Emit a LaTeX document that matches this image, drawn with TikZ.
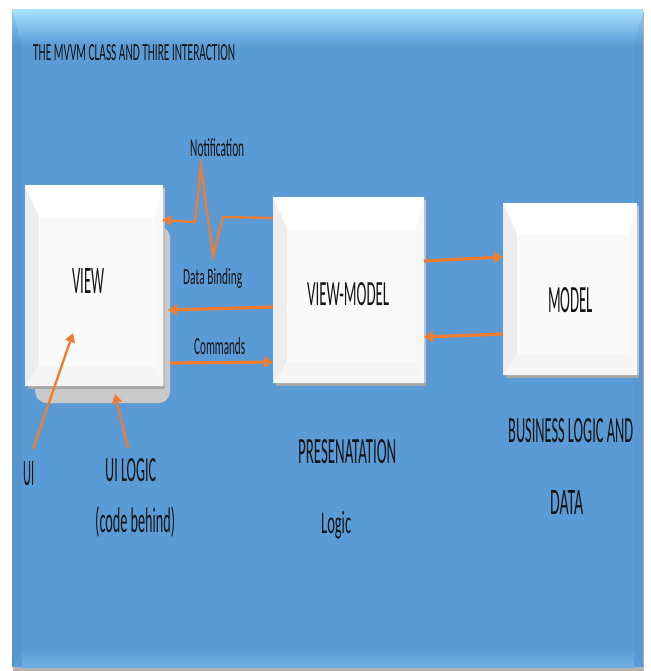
\documentclass[tikz,border=0pt]{standalone}
\usepackage{fontspec}
\setmainfont{Carlito}
\usetikzlibrary{arrows.meta}
\definecolor{panelblue}{HTML}{5B9BD5}
\definecolor{lightblue}{HTML}{A6E0FF}
\definecolor{arroworange}{HTML}{ED7D31}
\definecolor{txt}{HTML}{141414}
\definecolor{shadowgray}{HTML}{C9C9C9}
\newcommand{\fitbox}[3]{\resizebox{#1pt}{#2pt}{#3}}
\newcommand{\bevelbox}[5]{%
  % #1 name, #2 x1, #3 y1, #4 x2, #5 y2
  \fill[black!35] (#2+3,#5) rectangle (#4+2,#5+3);
  \fill[black!25] (#4,#3+3) rectangle (#4+2,#5);
  \node[boxface, minimum width=#4pt-#2pt, minimum height=#5pt-#3pt, anchor=north west] (#1) at (#2,#3) {};
  \fill[black!7] (#2,#3) -- (#2+14,#3+32) -- (#2+14,#5-20) -- (#2,#5) -- cycle;
  \fill[black!3] (#4,#3) -- (#4-8,#3+32) -- (#4-8,#5-20) -- (#4,#5) -- cycle;
  \fill[black!4] (#2,#5) -- (#2+14,#5-20) -- (#4-8,#5-20) -- (#4,#5) -- cycle;
  \fill[black!2] (#2+14,#3+32) rectangle (#4-8,#5-20);
}
\begin{document}
\begin{tikzpicture}[x=1pt,y=-1pt,
  lbl/.style={inner sep=0pt, anchor=base west, text=txt},
  boxface/.style={fill=white, draw=none, inner sep=0pt, rectangle},
  conn/.style={draw=arroworange, line width=3.2pt, line join=miter,
    -{Triangle[length=9pt,width=11pt]}},
  zig/.style={draw=arroworange, line width=2.3pt, line join=miter,
    -{Triangle[length=9pt,width=10pt]}}]
\useasboundingbox (0,0) rectangle (650,671);
\fill[white] (0,0) rectangle (650,671);
% panel
\fill[black!30] (13,12) rectangle (644,671);
\fill[panelblue] (12,10) rectangle (643,667);
\shade[top color=lightblue, bottom color=panelblue] (12,10) rectangle (643,46);
\fill[panelblue!80!black, opacity=.18] (12,10) -- (22,46) -- (22,650) -- (12,667) -- cycle;
\fill[panelblue!80!black, opacity=.12] (643,10) -- (634,46) -- (634,650) -- (643,667) -- cycle;
\shade[top color=panelblue, bottom color=panelblue!70!lightblue] (22,650) rectangle (634,667);

% title
\node[lbl] (title) at (33,61) {\fitbox{202}{16}{THE MVVM CLASS AND THIRE INTERACTION}};

% VIEW shadow (UI logic)
\node[fill=shadowgray, rounded corners=12pt, inner sep=0pt, minimum width=135pt,
  minimum height=177pt, anchor=north west] (uilogicbox) at (35,226) {};

% boxes
\bevelbox{view}{25}{185}{163}{386}
\bevelbox{vm}{273}{197}{424}{383}
\bevelbox{model}{503}{203}{637}{375}

% box labels
\node[lbl] (viewlbl) at (72,293) {\fitbox{32}{25}{VIEW}};
\node[lbl] (vmlbl) at (307,305) {\fitbox{82}{23}{VIEW-MODEL}};
\node[lbl] (modellbl) at (548,312) {\fitbox{45}{25}{MODEL}};

% connector labels
\node[lbl] (notif) at (190,157) {\fitbox{54}{18}{Notification}};
\node[lbl] (binding) at (183,284) {\fitbox{59}{16}{Data Binding}};
\node[lbl] (commands) at (194,354) {\fitbox{51}{17}{Commands}};

% bottom labels
\node[lbl] (ui) at (23,485) {\fitbox{11}{24}{UI}};
\node[lbl] (uilogic) at (105,481) {\fitbox{51}{23}{UI LOGIC}};
\node[lbl] (codebehind) at (95,532) {\fitbox{80}{26}{(code behind)}};
\node[lbl] (pres) at (298,463) {\fitbox{98}{24}{PRESENATATION}};
\node[lbl] (logic) at (321,533) {\fitbox{30}{22}{Logic}};
\node[lbl] (business) at (508,442) {\fitbox{125}{24}{BUSINESS LOGIC AND}};
\node[lbl] (data) at (550,514) {\fitbox{33}{24}{DATA}};

% connector end points
\coordinate (nS) at (273,218);
\coordinate (nE) at (162,220);
\coordinate (bS) at (273,307);
\coordinate (bE) at (168,310);
\coordinate (cS) at (170,363);
\coordinate (cE) at (273,362);
\coordinate (mS) at (424,261);
\coordinate (mE) at (503,257);
\coordinate (rS) at (503,334);
\coordinate (rE) at (424,337);
\coordinate (uiS) at (33,449);
\coordinate (uiE) at (73,333);
\coordinate (ulS) at (128,448);
\coordinate (ulE) at (115,394);

% connectors
\draw[zig] (nS) -- (223,217) -- (213,256) -- (201,166) -- (195,222) -- (nE);
\draw[conn] (bS) -- (bE);
\draw[conn] (cS) -- (cE);
\draw[conn] (mS) -- (mE);
\draw[conn] (rS) -- (rE);
\draw[zig] (uiS) -- (uiE);
\draw[zig] (ulS) -- (ulE);
\end{tikzpicture}
\end{document}
